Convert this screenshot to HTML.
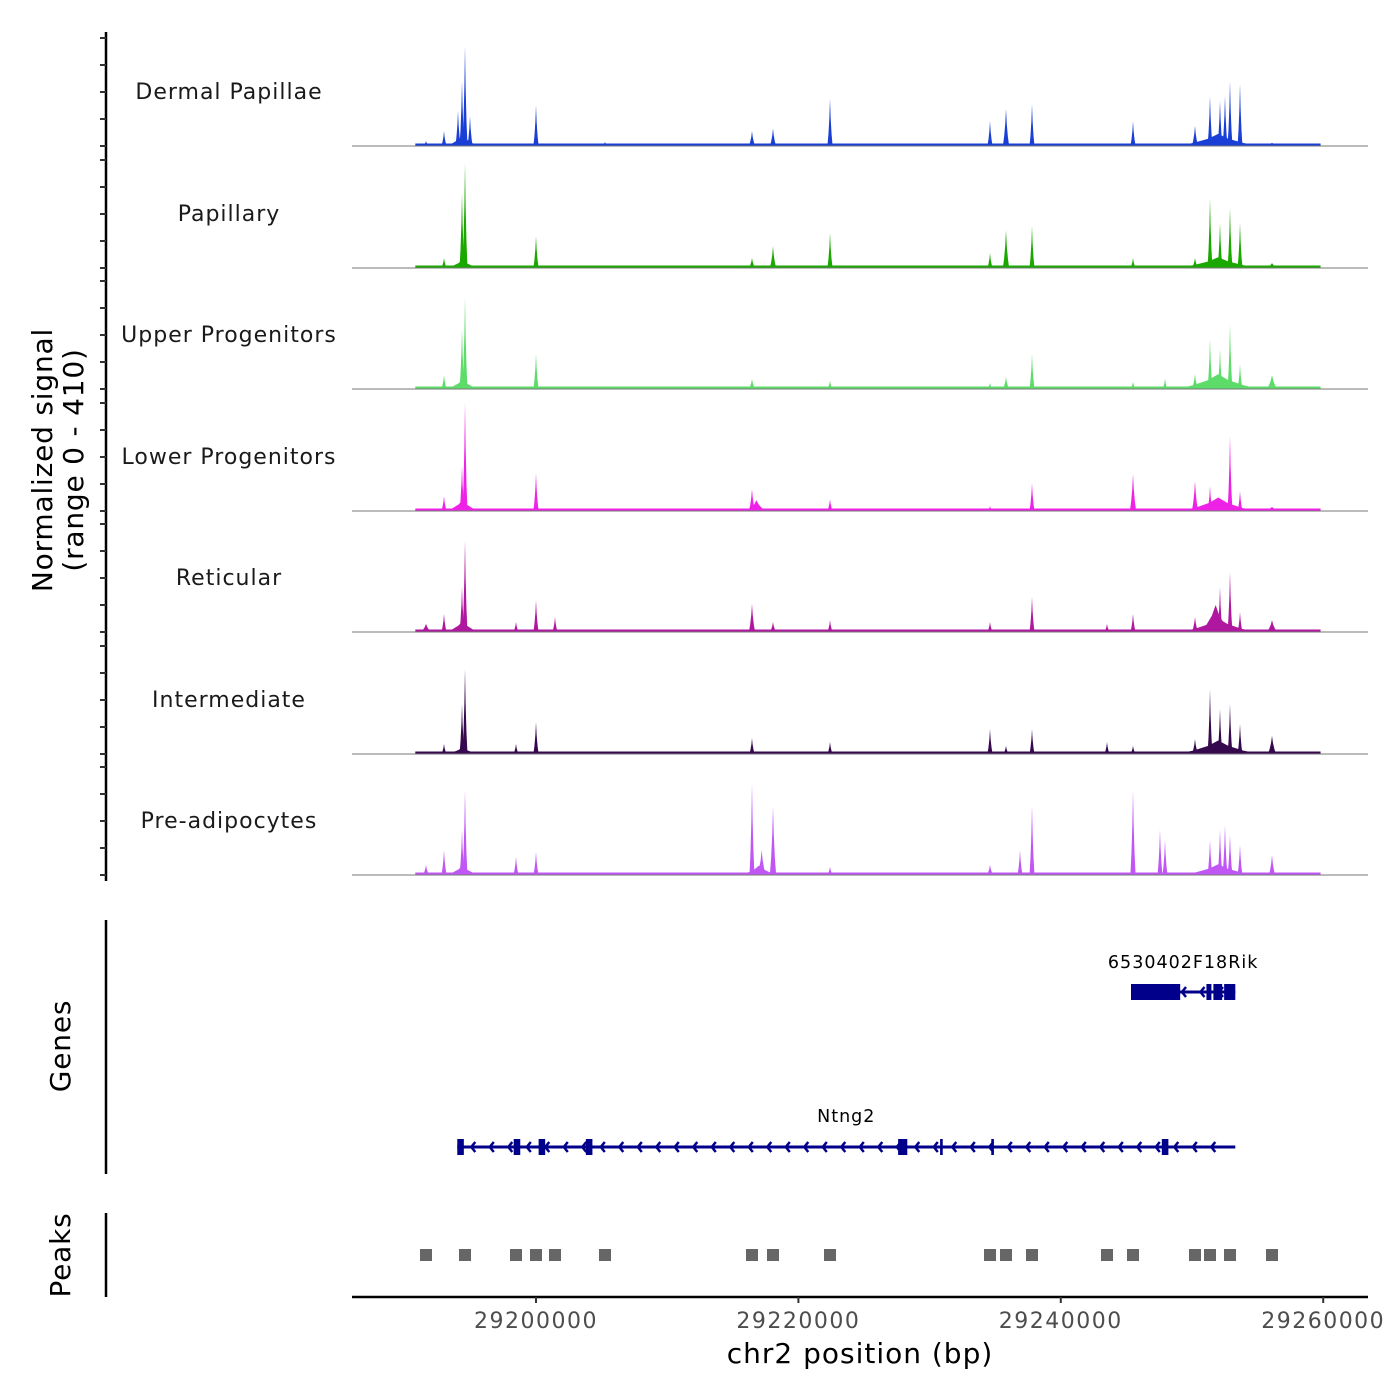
<!DOCTYPE html>
<html><head><meta charset="utf-8"><style>
html,body{margin:0;padding:0;background:#fff}
svg{display:block;font-family:"DejaVu Sans","Liberation Sans",sans-serif}
</style></head><body>
<svg id="chart" width="1400" height="1400" viewBox="0 0 1400 1400" xmlns="http://www.w3.org/2000/svg"></svg>
<script>
// ---- data ----
const trackNames = ["Dermal Papillae","Papillary","Upper Progenitors","Lower Progenitors","Reticular","Intermediate","Pre-adipocytes"];
const trackColors = ["#1a3fd6","#1aa800","#5ddc6a","#ee22e6","#b0179f","#36094f","#c057f5"];
const xTicks = [29200000,29220000,29240000,29260000];
const yTicks = [0,100,200,300,400];
const signalStart = 29190800, signalEnd = 29259800;
// peaks: [bp, signal, widthBp]
const dermal = [[29191616,18,300],[29192988,55,250],[29194055,130,250],[29194360,240,200],[29194588,370,180],[29194970,110,250],[29194400,40,1600],[29200000,150,250],[29205259,15,300],[29216463,55,300],[29218064,65,300],[29222409,175,250],[29234604,92,250],[29235823,137,300],[29237805,155,220],[29245503,92,250],[29250229,74,300],[29251372,185,220],[29252134,167,220],[29252515,185,220],[29252896,240,220],[29253659,230,220],[29252000,45,4000],[29256098,12,600]];
const papillary = [[29192988,37,250],[29194360,277,200],[29194588,388,180],[29194400,30,1600],[29200000,118,250],[29216463,37,300],[29218064,81,300],[29222409,130,250],[29234604,55,250],[29235823,140,300],[29237805,155,220],[29245503,37,250],[29250229,37,300],[29251372,259,220],[29252134,167,220],[29252896,222,220],[29253659,167,220],[29252000,40,4000],[29256098,18,600]];
const upper = [[29192988,52,250],[29194360,222,200],[29194588,340,180],[29194400,35,1600],[29200000,130,250],[29216463,37,300],[29222409,30,250],[29234604,22,250],[29235823,44,300],[29237805,130,220],[29245503,26,250],[29247942,37,200],[29250229,55,300],[29251372,185,220],[29252134,148,220],[29252896,240,220],[29253659,92,220],[29252000,55,4000],[29256098,52,500]];
const lower = [[29192988,55,250],[29194360,167,200],[29194588,400,180],[29194400,40,1600],[29200000,140,250],[29216463,81,300],[29216800,40,900],[29222409,44,250],[29234604,18,250],[29237805,104,220],[29245503,137,300],[29250229,111,300],[29251372,92,220],[29252896,278,220],[29253659,74,220],[29252000,50,3600],[29256098,15,800]];
const reticular = [[29191616,30,500],[29192988,67,250],[29194360,167,200],[29194588,340,180],[29194400,40,1600],[29198476,37,250],[29200000,118,250],[29201448,55,250],[29216463,104,300],[29218064,37,300],[29222409,44,250],[29234604,37,250],[29237805,130,220],[29243521,30,250],[29245503,67,250],[29250229,55,300],[29251800,100,1500],[29252134,167,220],[29252896,222,220],[29253659,74,220],[29252000,50,3600],[29256098,44,500]];
const intermediate = [[29192988,37,250],[29194360,185,200],[29194588,315,180],[29194400,25,1600],[29198476,37,250],[29200000,118,250],[29216463,59,250],[29222409,44,250],[29234604,92,250],[29235823,30,250],[29237805,92,220],[29243521,44,250],[29245503,30,250],[29250229,55,300],[29251372,240,220],[29252134,167,220],[29252896,185,220],[29253659,111,220],[29252000,50,4000],[29256098,67,400]];
const preadip = [[29191616,37,300],[29192988,92,250],[29194360,167,200],[29194588,315,180],[29194400,35,1600],[29198476,67,250],[29200000,85,250],[29216463,340,200],[29217200,92,400],[29218064,252,300],[29217000,35,1800],[29222409,30,250],[29234604,37,300],[29236890,92,200],[29237805,259,200],[29245503,315,250],[29247560,167,200],[29247942,130,200],[29251372,130,220],[29252134,167,220],[29252515,185,220],[29252896,148,220],[29253659,111,220],[29252000,40,3500],[29256098,74,300]];
const trackPeaks = [dermal,papillary,upper,lower,reticular,intermediate,preadip];
// genes: exons [startBp,endBp]
const rikStart = 29245350, rikEnd = 29253300;
const rikExons = [[29245350,29249100],[29251100,29251480],[29251630,29252300],[29252450,29253300]];
const ntngStart = 29194000, ntngEnd = 29253300;
const ntngExons = [[29194000,29194500],[29198300,29198800],[29200200,29200700],[29203800,29204300],[29227600,29228300],[29247700,29248200],[29234700,29234900],[29230800,29231000]];
const peakRegions = [29191616,29194588,29198476,29200000,29201448,29205259,29216463,29218064,29222409,29234604,29235823,29237805,29243521,29245503,29250229,29251372,29252896,29256098];

// ---- scales ----
const X0 = 536, pxPerBp = 262.4/20000;
function xs(bp){return X0 + (bp-29200000)*pxPerBp;}
const yUnit = 0.27;
const baselines = [146,268,389,511,632,754,875];
const NS="http://www.w3.org/2000/svg";
const svg=document.getElementById('chart');
function mk(tag,attrs,parent){const e=document.createElementNS(NS,tag);for(const k in attrs)e.setAttribute(k,attrs[k]);(parent||svg).appendChild(e);return e;}

// left axis
const la=mk('line',{x1:106,y1:32,x2:106,y2:881,stroke:'#000','stroke-width':2.5});


baselines.forEach((b,i)=>{
  yTicks.forEach(v=>{
    const t=mk('line',{x1:100,x2:106,y1:b-v*yUnit,y2:b-v*yUnit,stroke:'#333','stroke-width':2});
    
    
  });
});
const yt=mk('text',{transform:'translate(52,460) rotate(-90)','text-anchor':'middle','font-size':28,fill:'#000','letter-spacing':'0.8'});


mk('tspan',{x:0,dy:0},yt).textContent='Normalized signal';
mk('tspan',{x:0,dy:31},yt).textContent='(range 0 - 410)';

// tracks
trackPeaks.forEach((pk,i)=>{
  const b=baselines[i];
  const g=mk('g',{});
  
  
  const bg=mk('rect',{x:xs(signalStart),y:b-2.5,width:xs(signalEnd)-xs(signalStart),height:2.5,fill:trackColors[i]},g);
  
  
  pk.forEach(p=>{
    const cx=xs(p[0]),h=p[1]*yUnit,w=Math.max(p[2]*pxPerBp*1.6,5);
    const poly=mk('polygon',{points:`${cx-w/2},${b} ${cx-w*0.3},${b-h*0.25} ${cx-w*0.12},${b-h*0.6} ${cx},${b-h} ${cx+w*0.12},${b-h*0.6} ${cx+w*0.3},${b-h*0.25} ${cx+w/2},${b}`,fill:trackColors[i]},g);
    
    
  });
  const bl=mk('line',{x1:352,x2:1368,y1:b,y2:b,stroke:'#777','stroke-width':1},g);
  
  
  const lb=mk('text',{x:229,y:b-47,'text-anchor':'middle','font-size':22,fill:'#1a1a1a','letter-spacing':'1'},g);
  
  
  lb.textContent=trackNames[i];
});

// genes panel
const ga=mk('line',{x1:106,y1:920,x2:106,y2:1174,stroke:'#000','stroke-width':2.5});


const gt=mk('text',{transform:'translate(70,1046) rotate(-90)','text-anchor':'middle','font-size':28,'letter-spacing':'0.8'});


gt.textContent='Genes';
function drawGene(name,s,e,exons,y,labelY){
  const g=mk('g',{});
  
  
  mk('line',{x1:xs(s),x2:xs(e),y1:y,y2:y,stroke:'#00008b','stroke-width':3},g);
  for(let x=xs(s)+14;x<xs(e)-6;x+=18.5){
    mk('polyline',{points:`${x+4},${y-5} ${x},${y} ${x+4},${y+5}`,fill:'none',stroke:'#00008b','stroke-width':2.5},g);
  }
  exons.forEach(ex=>{
    const r=mk('rect',{x:xs(ex[0]),y:y-8,width:Math.max(xs(ex[1])-xs(ex[0]),2),height:16,fill:'#00008b'},g);
    
    
  });
  const t=mk('text',{x:(xs(s)+xs(e))/2,y:labelY,'text-anchor':'middle','font-size':17.5,'letter-spacing':'1'},g);
  t.textContent=name;
}
drawGene('6530402F18Rik',rikStart,rikEnd,rikExons,992,968);
drawGene('Ntng2',ntngStart,ntngEnd,ntngExons,1147,1122);

// peaks panel
const pa=mk('line',{x1:106,y1:1213,x2:106,y2:1297,stroke:'#000','stroke-width':2.5});


const pt=mk('text',{transform:'translate(70,1255) rotate(-90)','text-anchor':'middle','font-size':28,'letter-spacing':'0.8'});


pt.textContent='Peaks';
peakRegions.forEach(p=>{
  const r=mk('rect',{x:xs(p)-6,y:1249,width:12,height:12,fill:'#666'});
  
  
});

// x axis
const xa=mk('line',{x1:352,x2:1368,y1:1297,y2:1297,stroke:'#000','stroke-width':2.5});


xTicks.forEach(v=>{
  const x=xs(v);
  const t=mk('line',{x1:x,x2:x,y1:1297,y2:1303,stroke:'#333','stroke-width':2});
  
  
  const l=mk('text',{x:x,y:1328,'text-anchor':'middle','font-size':22,fill:'#4d4d4d','letter-spacing':'1.5'});
  
  
  l.textContent=String(v);
});
const xt=mk('text',{x:860,y:1363,'text-anchor':'middle','font-size':28,'letter-spacing':'1'});


xt.textContent='chr2 position (bp)';
</script>
</body></html>
